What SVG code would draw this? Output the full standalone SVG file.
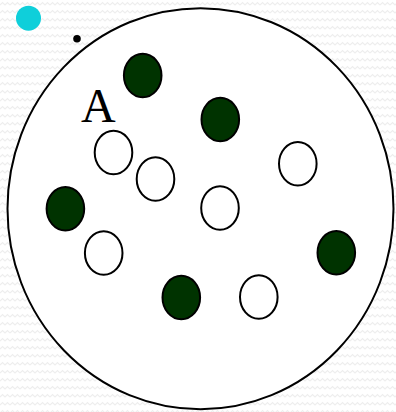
<svg xmlns="http://www.w3.org/2000/svg" width="396" height="412" viewBox="0 0 396 412">
  <defs>
    <pattern id="zig" width="10" height="8" patternUnits="userSpaceOnUse">
      <path d="M0,5 L2.5,2.5 L5,5 L7.5,2.5 L10,5" fill="none" stroke="#eeeeee" stroke-width="1.2"/>
    </pattern>
    <style>
      .big { fill: #ffffff; stroke: #000000; stroke-width: 2; }
      .dark { fill: #003300; stroke: #000000; stroke-width: 2; }
      .open { fill: #ffffff; stroke: #000000; stroke-width: 2; }
      .label { font-family: "Liberation Serif", "Times New Roman", serif; font-size: 48px; fill: #000000; }
    </style>
  </defs>
  <rect x="0" y="0" width="396" height="412" fill="#ffffff"/>
  <rect x="0" y="0" width="396" height="412" fill="url(#zig)"/>
  <g id="cyan-dot"><circle cx="28.5" cy="18.2" r="12.5" fill="#0fcfda"/></g>
  <g id="black-dot"><circle cx="77" cy="38.8" r="3.8" fill="#000000"/></g>
  <g id="big-circle"><ellipse class="big" cx="200.5" cy="208.7" rx="193" ry="200.5"/></g>
  <g id="label-A"><text class="label" x="81" y="122">A</text></g>
  <g id="dark-1"><ellipse class="dark" cx="142.7" cy="75.5" rx="18.8" ry="21.7"/></g>
  <g id="dark-2"><ellipse class="dark" cx="220.3" cy="119.5" rx="18.8" ry="21.7"/></g>
  <g id="dark-3"><ellipse class="dark" cx="65.4" cy="208.7" rx="18.8" ry="21.7"/></g>
  <g id="dark-4"><ellipse class="dark" cx="336.3" cy="252.8" rx="18.8" ry="21.7"/></g>
  <g id="dark-5"><ellipse class="dark" cx="181.3" cy="297.5" rx="18.8" ry="21.7"/></g>
  <g id="open-1"><ellipse class="open" cx="113.5" cy="152.5" rx="18.8" ry="21.7"/></g>
  <g id="open-2"><ellipse class="open" cx="155.5" cy="179" rx="18.8" ry="21.7"/></g>
  <g id="open-3"><ellipse class="open" cx="297.8" cy="163.8" rx="18.8" ry="21.7"/></g>
  <g id="open-4"><ellipse class="open" cx="220" cy="208" rx="18.8" ry="21.7"/></g>
  <g id="open-5"><ellipse class="open" cx="103.7" cy="253" rx="18.8" ry="21.7"/></g>
  <g id="open-6"><ellipse class="open" cx="258.8" cy="297" rx="18.8" ry="21.7"/></g>
  <g id="connectors"></g>
</svg>
